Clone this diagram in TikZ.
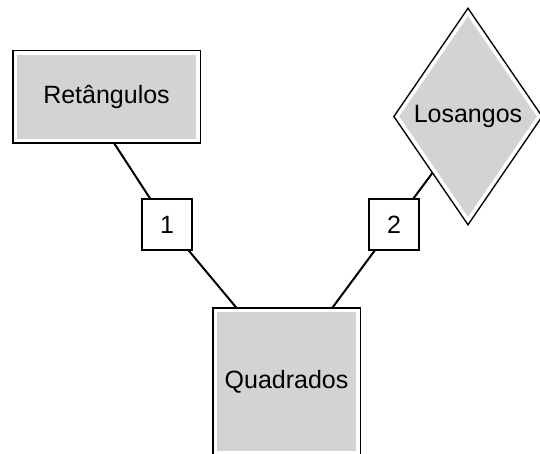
\documentclass[tikz,border=0pt]{standalone}
\usepackage{fontspec}
\setmainfont{Liberation Sans}
\usetikzlibrary{shapes.geometric,backgrounds}
\definecolor{shapegray}{HTML}{D3D3D3}
\begin{document}
\begin{tikzpicture}[x=1pt,y=-1pt,
  shapebox/.style={fill=shapegray, draw=white, line width=3.5pt,
    preaction={draw=black, line width=6.5pt},
    inner sep=0pt, outer sep=0pt, font=\fontsize{25}{30}\selectfont},
  numbox/.style={draw=black, line width=1.5pt, fill=white,
    minimum width=50pt, minimum height=51pt, inner sep=0pt, outer sep=0pt,
    font=\fontsize{25}{30}\selectfont},
  link/.style={draw=black, line width=2pt}]
\useasboundingbox (0,0) rectangle (540,454);
\node[shapebox, rectangle, minimum width=182.5pt, minimum height=87.5pt] (ret) at (106.5,97) {Retângulos};
\node[shapebox, diamond, minimum width=142pt, minimum height=207.4pt] (los) at (468,116.5) {Losangos};
\node[shapebox, rectangle, minimum width=142.5pt, minimum height=142.5pt] (sq) at (286.5,381.5) {Quadrados};
\node[numbox] (b1) at (167,224.5) {1};
\node[numbox] (b2) at (394,224.5) {2};
\begin{scope}[on background layer]
\draw[link] ([xshift=6pt]ret.south) -- (b1) -- ([xshift=-48pt]sq.north);
\draw[link] (los.238) -- (b2) -- ([xshift=44pt]sq.north);
\end{scope}
\end{tikzpicture}
\end{document}
